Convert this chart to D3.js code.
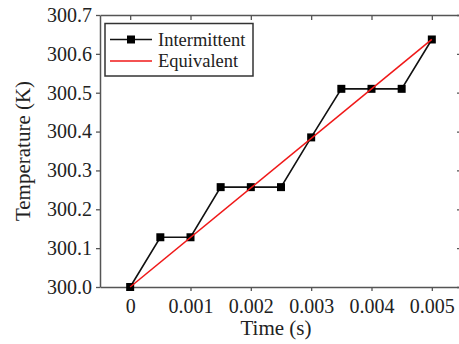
<!DOCTYPE html>
<html><head><meta charset="utf-8">
<script src="https://cdn.jsdelivr.net/npm/d3@7"></script>
<style>
body{margin:0;background:#fff;}
svg{display:block;}
text{font-family:"Liberation Serif","Times New Roman",serif;fill:#222;}
</style></head>
<body>
<svg id="c" width="459" height="344"></svg>
<script>
const timeValues = [0, 0.0005, 0.001, 0.0015, 0.002, 0.0025, 0.003, 0.0035, 0.004, 0.0045, 0.005];
const intermittentValues = [300.0, 300.128, 300.128, 300.257, 300.257, 300.257, 300.385, 300.51, 300.51, 300.51, 300.637];
const equivalentTime = [0, 0.005];
const equivalentValues = [300.0, 300.637];
const xTicks = [0, 0.001, 0.002, 0.003, 0.004, 0.005];
const yTicks = [300.0, 300.1, 300.2, 300.3, 300.4, 300.5, 300.6, 300.7];
const seriesNames = ["Intermittent", "Equivalent"];

const L = 100, R = 462, T = 15, B = 287;
const svg = d3.select("#c");
const x = d3.scaleLinear().domain([-0.0005, 0.0055]).range([L, R]);
const y = d3.scaleLinear().domain([300.0, 300.7]).range([B, T]);
const axisColor = "#555";

function styleAxis(g){
  g.select(".domain").attr("stroke", axisColor).attr("stroke-width", 1.5);
  g.selectAll(".tick line").attr("stroke", axisColor).attr("stroke-width", 1.3);
  g.selectAll("text").attr("fill", "#222").style("font-family", '"Liberation Serif", serif');
}

// bottom
const gx = svg.append("g").attr("transform", `translate(0,${B})`)
  .call(d3.axisBottom(x).tickValues(xTicks).tickSizeInner(4).tickSizeOuter(0).tickPadding(8)
    .tickFormat(d => d === 0 ? "0" : d3.format(".3f")(d)));
styleAxis(gx); gx.selectAll("text").attr("font-size", 20);
// top
const gt = svg.append("g").attr("transform", `translate(0,${T})`)
  .call(d3.axisTop(x).tickValues(xTicks).tickSizeInner(-5).tickSizeOuter(0).tickFormat(""));
styleAxis(gt);
// left
const gy = svg.append("g").attr("transform", `translate(${L},0)`)
  .call(d3.axisLeft(y).tickValues(yTicks).tickSizeInner(4).tickSizeOuter(0).tickPadding(4)
    .tickFormat(d3.format(".1f")));
styleAxis(gy); gy.selectAll("text").attr("font-size", 20);
// right
const gr = svg.append("g").attr("transform", `translate(${R},0)`)
  .call(d3.axisRight(y).tickValues(yTicks).tickSizeInner(-5).tickSizeOuter(0).tickFormat(""));
styleAxis(gr);

// intermittent
const inter = timeValues.map((t, i) => [t, intermittentValues[i]]);
const line = d3.line().x(d => x(d[0])).y(d => y(d[1]));
svg.append("path").datum(inter).attr("d", line).attr("fill", "none")
  .attr("stroke", "#111").attr("stroke-width", 1.6);
svg.selectAll("rect.m").data(inter).enter().append("rect").attr("class", "m")
  .attr("x", d => x(d[0]) - 4).attr("y", d => y(d[1]) - 4)
  .attr("width", 8).attr("height", 8).attr("fill", "#000");
// equivalent
const eq = equivalentTime.map((t, i) => [t, equivalentValues[i]]);
svg.append("path").datum(eq).attr("d", line).attr("fill", "none")
  .attr("stroke", "#f01818").attr("stroke-width", 1.6);

// legend
const lg = svg.append("g");
lg.append("rect").attr("x", 105).attr("y", 23.5).attr("width", 148).attr("height", 52.5)
  .attr("fill", "#fff").attr("stroke", "#333").attr("stroke-width", 1.5);
lg.append("line").attr("x1", 110).attr("x2", 152).attr("y1", 39.5).attr("y2", 39.5)
  .attr("stroke", "#111").attr("stroke-width", 1.6);
lg.append("rect").attr("x", 127).attr("y", 35.5).attr("width", 8).attr("height", 8).attr("fill", "#000");
lg.append("line").attr("x1", 110).attr("x2", 152).attr("y1", 61).attr("y2", 61)
  .attr("stroke", "#f01818").attr("stroke-width", 1.6);
lg.append("text").attr("x", 158).attr("y", 45.5).attr("font-size", 18.5).text(seriesNames[0]);
lg.append("text").attr("x", 158).attr("y", 67).attr("font-size", 18.5).text(seriesNames[1]);

// titles
svg.append("text").attr("x", 276).attr("y", 335).attr("text-anchor", "middle")
  .attr("font-size", 21).text("Time (s)");
svg.append("text").attr("transform", "translate(30,151) rotate(-90)").attr("text-anchor", "middle")
  .attr("font-size", 21).text("Temperature (K)");
</script>
</body></html>
